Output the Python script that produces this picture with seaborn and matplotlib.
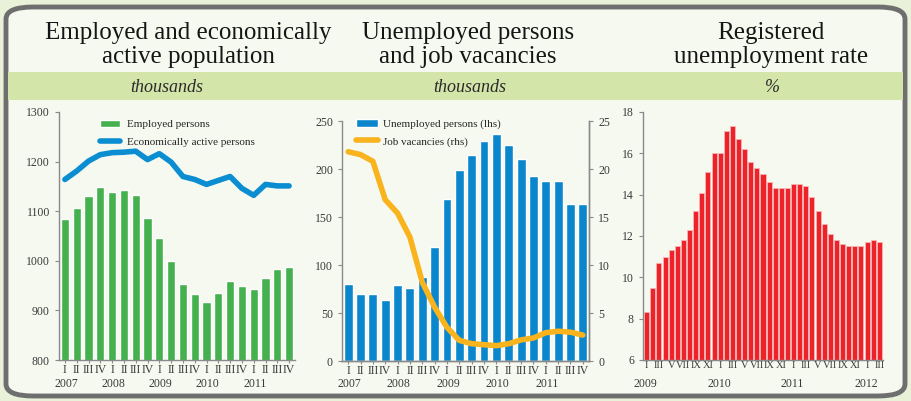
import numpy as np
import pandas as pd
import matplotlib
matplotlib.use("Agg")
import matplotlib.pyplot as plt
import seaborn as sns
from matplotlib.patches import FancyBboxPatch, Rectangle
from matplotlib.lines import Line2D
from matplotlib.transforms import blended_transform_factory

# ---------------- data ----------------
quarters = ["I", "II", "III", "IV"] * 5
years_q = ["2007", "2008", "2009", "2010", "2011"]
employed = [1085, 1107, 1131, 1149, 1138, 1142, 1132, 1086, 1046, 999,
            954, 933, 916, 936, 960, 950, 944, 966, 983, 987]
active = [1164, 1181, 1201, 1214, 1218, 1219, 1221, 1204, 1216, 1199,
          1170, 1164, 1154, 1162, 1170, 1146, 1132, 1154, 1151, 1151]
unemployed = [80, 70, 70, 64, 79, 76, 87, 119, 169, 199,
              215, 229, 236, 225, 210, 193, 188, 187, 164, 164]
vacancies = [21.8, 21.5, 20.8, 16.8, 15.4, 12.9, 8.2, 5.6, 3.5, 2.15,
             1.8, 1.7, 1.6, 1.8, 2.2, 2.4, 2.95, 3.1, 3.0, 2.7]
months = ["I", "", "III", "", "V", "", "VII", "", "IX", "", "XI", ""] * 3 + ["I", "", "III"]
years_m = ["2009", "2010", "2011", "2012"]
rate = [8.3, 9.5, 10.7, 11.0, 11.3, 11.5, 11.8, 12.3, 13.2, 14.1, 15.1, 16.0,
        16.0, 17.1, 17.3, 16.7, 16.2, 15.6, 15.3, 15.0, 14.6, 14.3, 14.3, 14.3,
        14.5, 14.5, 14.4, 13.9, 13.2, 12.6, 12.1, 11.8, 11.6, 11.5, 11.5, 11.5,
        11.7, 11.8, 11.7]
titles = ["Employed and economically\nactive population",
          "Unemployed persons\nand job vacancies",
          "Registered\nunemployment rate"]
units = ["thousands", "thousands", "%"]

# ---------------- style ----------------
sns.set_style("ticks")
plt.rcParams['font.family'] = ['Liberation Serif', 'DejaVu Serif']
GREEN = '#45B04E'
BLUE_LINE = '#0B8DD2'
BLUE_BAR = '#0A87CC'
ORANGE = '#F8B31D'
RED = '#EE2229'
AXC = '#8a8a8a'
TXT = '#3a3a3a'

W, H = 911, 401
fig = plt.figure(figsize=(W / 100, H / 100), dpi=100, facecolor='#E9F1D9')

def fx(px):
    return px / W

def fy(py):
    return 1 - py / H

# inner panel background and frame
frame = FancyBboxPatch((fx(6), fy(396)), fx(899), fy(7) - fy(396),
                       boxstyle="round,pad=0,rounding_size=0.03",
                       transform=fig.transFigure, facecolor='#F6F9EF',
                       edgecolor='#6E6E6E', linewidth=3.5, zorder=-2)
fig.patches.append(frame)
# green units band
band = Rectangle((fx(8), fy(100)), fx(895), fy(72) - fy(100),
                 transform=fig.transFigure, facecolor='#D4E5A9',
                 edgecolor='none', zorder=-1)
fig.patches.append(band)

title_x = [188, 468, 771]
unit_x = [167, 470, 772]
for tx, ux, t, u in zip(title_x, unit_x, titles, units):
    fig.text(fx(tx), fy(45), t, ha='center', va='center', fontsize=18,
             color='#151515', linespacing=1.15)
    fig.text(fx(ux), fy(87), u, ha='center', va='center', fontsize=13,
             style='italic', color='#2a2a2a')

def style_axis(ax, right=False):
    ax.set_facecolor('none')
    ax.spines['top'].set_visible(False)
    if not right:
        ax.spines['right'].set_visible(False)
    for s in ['left', 'bottom', 'right']:
        ax.spines[s].set_color(AXC)
        ax.spines[s].set_linewidth(1.0)
    ax.tick_params(axis='both', colors=AXC, labelcolor=TXT, labelsize=8.5,
                   length=3, width=0.8)
    ax.tick_params(axis='x', length=2, pad=1)
    ax.set_xlabel('')
    ax.set_ylabel('')

# ---------------- panel 1 ----------------
ax1 = fig.add_axes([fx(59), fy(360), fx(295 - 59), fy(112) - fy(360)])
idx_q = list(range(len(employed)))
sns.barplot(x=idx_q, y=employed, color=GREEN, saturation=1, width=0.7, ax=ax1)
sns.lineplot(x=idx_q, y=active, color=BLUE_LINE, lw=4, ax=ax1)
ax1.set_ylim(800, 1300)
ax1.set_yticks([800, 900, 1000, 1100, 1200, 1300])
ax1.set_xlim(-0.5, 19.5)
ax1.set_xticks(idx_q)
ax1.set_xticklabels(quarters)
style_axis(ax1)
tr = blended_transform_factory(ax1.transData, ax1.transAxes)
for k, yl in enumerate(years_q):
    ax1.text(4 * k + 0.1, -0.095, yl, transform=tr, ha='center', va='center',
             fontsize=8.5, color=TXT)
h1 = [Rectangle((0, 0), 1, 1, facecolor=GREEN), Line2D([], [], color=BLUE_LINE, lw=4)]
ax1.legend(h1, ["Employed persons", "Economically active persons"],
           loc='upper left', bbox_to_anchor=(0.172, 0.969), frameon=False,
           borderpad=0, borderaxespad=0,
           fontsize=8, handlelength=1.8, labelspacing=0.72, handletextpad=0.7)

# ---------------- panel 2 ----------------
ax2 = fig.add_axes([fx(342), fy(361), fx(589 - 342), fy(121) - fy(361)])
sns.barplot(x=idx_q, y=unemployed, color=BLUE_BAR, saturation=1, width=0.72, ax=ax2)
ax2.set_ylim(0, 250)
ax2.set_yticks([0, 50, 100, 150, 200, 250])
ax2.set_xlim(-0.5, 19.5)
ax2.set_xticks(idx_q)
ax2.set_xticklabels(quarters)
style_axis(ax2, right=True)
ax2b = ax2.twinx()
sns.lineplot(x=idx_q, y=vacancies, color=ORANGE, lw=4, ax=ax2b)
ax2b.set_ylim(0, 25)
ax2b.set_yticks([0, 5, 10, 15, 20, 25])
ax2b.set_xlim(-0.5, 19.5)
style_axis(ax2b, right=True)
ax2b.spines['left'].set_visible(False)
tr = blended_transform_factory(ax2.transData, ax2.transAxes)
for k, yl in enumerate(years_q):
    ax2.text(4 * k + 0.1, -0.095, yl, transform=tr, ha='center', va='center',
             fontsize=8.5, color=TXT)
h2 = [Rectangle((0, 0), 1, 1, facecolor=BLUE_BAR), Line2D([], [], color=ORANGE, lw=4)]
ax2b.legend(h2, ["Unemployed persons (lhs)", "Job vacancies (rhs)"],
            loc='upper left', bbox_to_anchor=(0.057, 1.007), frameon=False,
            borderpad=0, borderaxespad=0,
            fontsize=8, handlelength=2.0, labelspacing=0.65, handletextpad=0.4)

# ---------------- panel 3 ----------------
ax3 = fig.add_axes([fx(643), fy(360), fx(883 - 643), fy(112) - fy(360)])
idx_m = list(range(len(rate)))
sns.barplot(x=idx_m, y=rate, color=RED, saturation=1, width=0.82,
            edgecolor='#F7B5B5', linewidth=0.6, ax=ax3)
ax3.set_ylim(6, 18)
ax3.set_yticks([6, 8, 10, 12, 14, 16, 18])
ax3.set_xlim(-0.6, 38.6)
ax3.set_xticks(idx_m)
ax3.set_xticklabels(months)
style_axis(ax3)
ax3.tick_params(axis='x', length=0, labelsize=7.5)
tr = blended_transform_factory(ax3.transData, ax3.transAxes)
for k, yl in enumerate(years_m):
    ax3.text(12 * k - 0.2, -0.095, yl, transform=tr, ha='center', va='center',
             fontsize=8.5, color=TXT)

fig.savefig("out.png", dpi=100, facecolor=fig.get_facecolor())
